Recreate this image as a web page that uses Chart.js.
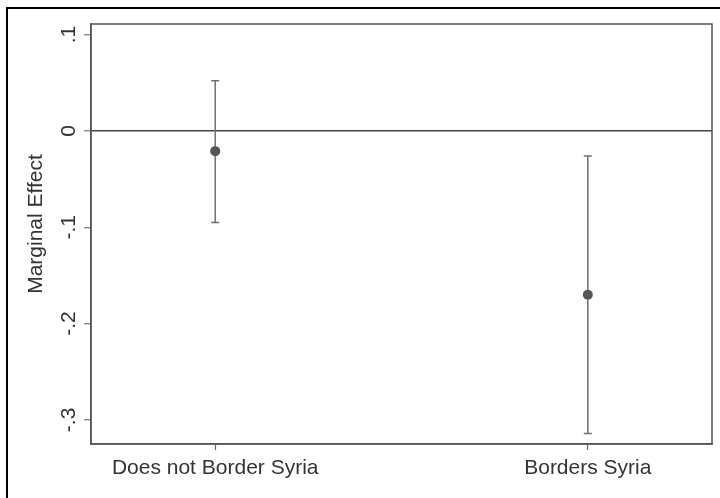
<!DOCTYPE html>
<html>
<head>
<meta charset="utf-8">
<script src="https://cdn.jsdelivr.net/npm/chart.js@4/dist/chart.umd.min.js"></script>
<style>
  html, body { margin: 0; padding: 0; background: #fff; }
  #wrap { position: relative; width: 720px; height: 498px; overflow: hidden; }
  #c { position: absolute; left: 0; top: 0; }
  #frame { position: absolute; left: 6px; top: 7px; right: -10px; bottom: -10px;
           border-left: 2px solid #000; border-top: 2px solid #000; pointer-events: none; }
</style>
</head>
<body>
<div id="wrap">
  <canvas id="c" width="720" height="498"></canvas>
  <div id="frame"></div>
</div>
<script>
// Marginal effect estimates with 95% confidence intervals
const groups = ['Does not Border Syria', 'Borders Syria'];
const groupPos = [0, 1];
const estimate = [-0.021, -0.170];
const ciLower = [-0.095, -0.314];
const ciUpper = [0.052, -0.026];
const yTicks = [0.1, 0, -0.1, -0.2, -0.3];
const yTickLabels = ['.1', '0', '-.1', '-.2', '-.3'];
const yTitle = 'Marginal Effect';

const FONT = '"Liberation Sans", Arial, Helvetica, sans-serif';
const TEXT = '#333333';
const AXIS = '#555555';

// Vertical CI whiskers with end caps, drawn under the point markers
const ciPlugin = {
  id: 'ciBars',
  beforeDatasetsDraw(chart) {
    const { ctx, scales: { x, y } } = chart;
    ctx.save();
    ctx.strokeStyle = '#707070';
    ctx.lineWidth = 1.5;
    groupPos.forEach((g, i) => {
      const px = x.getPixelForValue(g);
      const lo = y.getPixelForValue(ciLower[i]);
      const hi = y.getPixelForValue(ciUpper[i]);
      ctx.beginPath();
      ctx.moveTo(px, lo); ctx.lineTo(px, hi);
      ctx.moveTo(px - 4, lo); ctx.lineTo(px + 4, lo);
      ctx.moveTo(px - 4, hi); ctx.lineTo(px + 4, hi);
      ctx.stroke();
    });
    ctx.restore();
  }
};

// Plot frame, rotated y tick labels and y-axis title
const framePlugin = {
  id: 'frameAndLabels',
  afterDraw(chart) {
    const { ctx, chartArea: a, scales: { y } } = chart;
    ctx.save();
    ctx.strokeStyle = AXIS;
    ctx.lineWidth = 1.5;
    ctx.strokeRect(a.left, a.top, a.right - a.left, a.bottom - a.top);

    ctx.fillStyle = TEXT;
    ctx.font = '21px ' + FONT;
    ctx.textAlign = 'center';
    ctx.textBaseline = 'alphabetic';
    yTicks.forEach((v, i) => {
      const py = y.getPixelForValue(v);
      ctx.save();
      ctx.translate(75, py);
      ctx.rotate(-Math.PI / 2);
      ctx.fillText(yTickLabels[i], 0, 0);
      ctx.restore();
    });

    ctx.save();
    ctx.translate(42, 224);
    ctx.rotate(-Math.PI / 2);
    ctx.fillText(yTitle, 0, 0);
    ctx.restore();
    ctx.restore();
  }
};

new Chart(document.getElementById('c'), {
  type: 'scatter',
  data: {
    datasets: [{
      data: groupPos.map((g, i) => ({ x: g, y: estimate[i] })),
      backgroundColor: '#555555',
      borderColor: '#555555',
      borderWidth: 0,
      pointRadius: 5,
      pointHoverRadius: 5
    }]
  },
  options: {
    responsive: false,
    animation: false,
    events: [],
    layout: { padding: { top: 24, right: 8, left: 0, bottom: 0 } },
    plugins: { legend: { display: false }, tooltip: { enabled: false } },
    scales: {
      x: {
        type: 'linear',
        min: -1 / 3,
        max: 4 / 3,
        afterBuildTicks(s) { s.ticks = groupPos.map(v => ({ value: v })); },
        afterFit(s) { s.height = 54; },
        ticks: {
          callback: v => groups[groupPos.indexOf(v)],
          font: { family: FONT, size: 21 },
          color: TEXT,
          padding: 6,
          maxRotation: 0,
          autoSkip: false
        },
        grid: { drawOnChartArea: false, drawTicks: true, tickLength: 6, tickColor: '#666666', tickWidth: 1.2 },
        border: { display: true, color: AXIS, width: 1.5 }
      },
      y: {
        min: -0.325,
        max: 0.111,
        afterBuildTicks(s) { s.ticks = yTicks.map(v => ({ value: v })); },
        afterFit(s) { s.width = 91; },
        ticks: { display: false },
        grid: {
          drawOnChartArea: true,
          drawTicks: true,
          tickLength: 7,
          tickColor: '#777777',
          tickWidth: 1.2,
          color: c => (c.tick && c.tick.value === 0) ? '#444444' : 'rgba(0,0,0,0)',
          lineWidth: 1.5
        },
        border: { display: true, color: AXIS, width: 1.5 }
      }
    }
  },
  plugins: [ciPlugin, framePlugin]
});
</script>
</body>
</html>
